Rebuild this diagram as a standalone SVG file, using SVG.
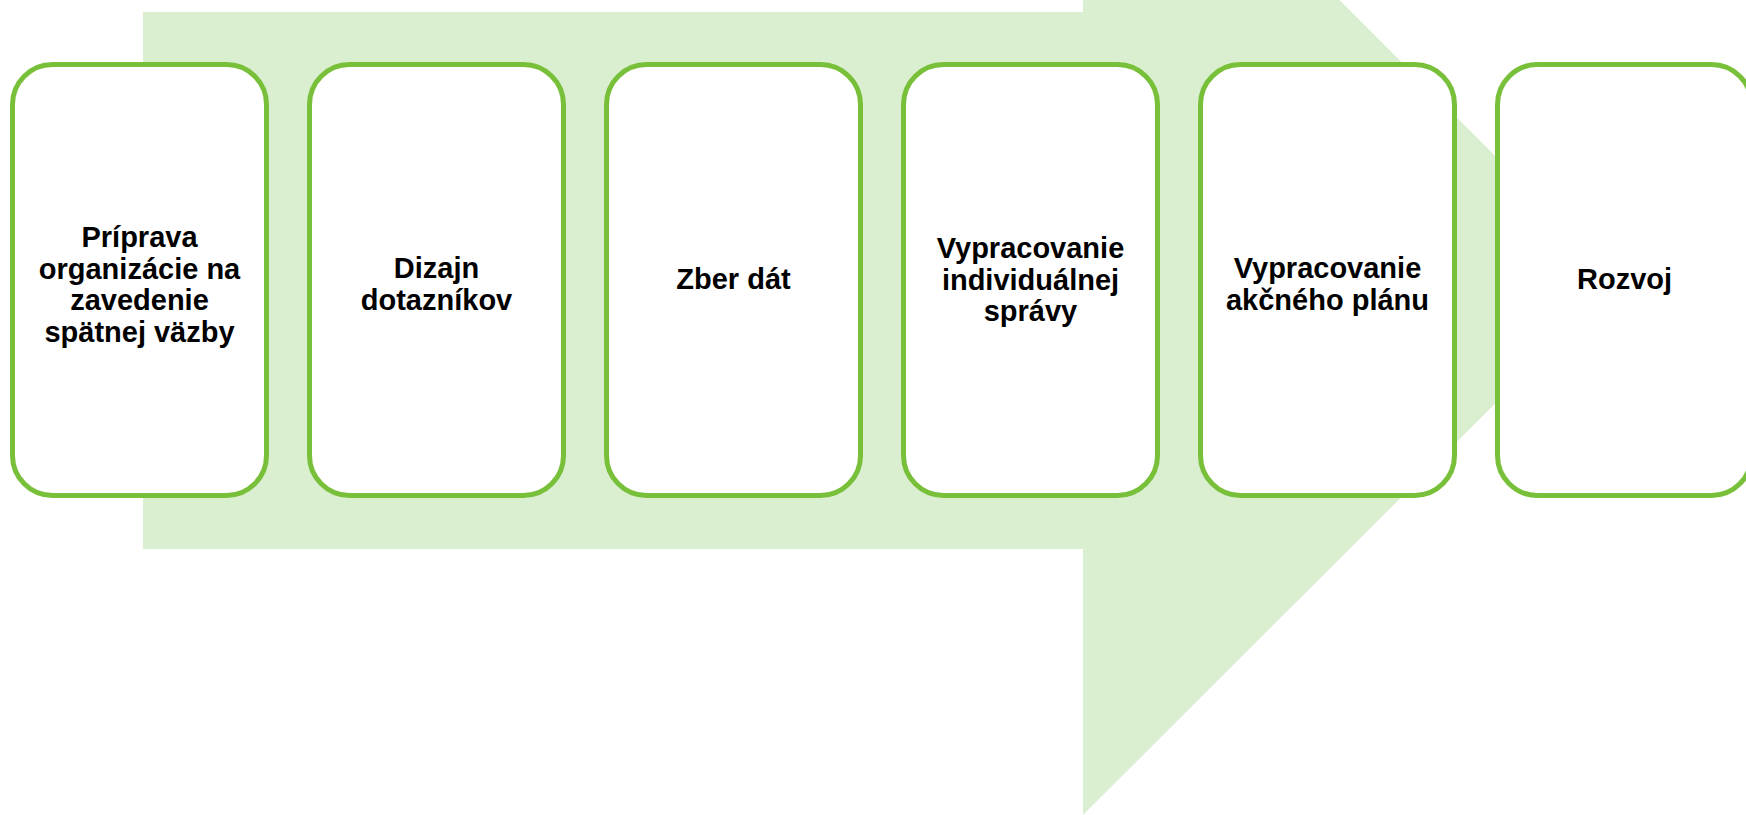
<svg xmlns="http://www.w3.org/2000/svg" width="1746" height="815" viewBox="0 0 1746 815">
<style>
.box{fill:#ffffff;stroke:#78C03A;stroke-width:5}
.lbl{font-family:"Liberation Sans",Arial,sans-serif;font-weight:bold;font-size:29px;fill:#000000;text-anchor:middle}
</style>
<rect width="1746" height="815" fill="#ffffff"/>
<g id="arrow">
<path d="M143,12 H1083 V-257 L1619,280 L1083,815 V549 H143 Z" fill="#DAEED0"/>
</g>
<g id="connectors"></g>
<g id="n1">
<rect class="box" x="12.5" y="64.5" width="254" height="431" rx="40"/>
<text class="lbl"><tspan x="139.5" y="247">Príprava</tspan><tspan x="139.5" y="278.5">organizácie na</tspan><tspan x="139.5" y="310">zavedenie</tspan><tspan x="139.5" y="341.5">spätnej väzby</tspan></text>
</g>
<g id="n2">
<rect class="box" x="309.5" y="64.5" width="254" height="431" rx="40"/>
<text class="lbl"><tspan x="436.5" y="278">Dizajn</tspan><tspan x="436.5" y="309.5">dotazníkov</tspan></text>
</g>
<g id="n3">
<rect class="box" x="606.5" y="64.5" width="254" height="431" rx="40"/>
<text class="lbl"><tspan x="733.5" y="289">Zber dát</tspan></text>
</g>
<g id="n4">
<rect class="box" x="903.5" y="64.5" width="254" height="431" rx="40"/>
<text class="lbl"><tspan x="1030.5" y="258">Vypracovanie</tspan><tspan x="1030.5" y="289.5">individuálnej</tspan><tspan x="1030.5" y="321">správy</tspan></text>
</g>
<g id="n5">
<rect class="box" x="1200.5" y="64.5" width="254" height="431" rx="40"/>
<text class="lbl"><tspan x="1327.5" y="278">Vypracovanie</tspan><tspan x="1327.5" y="309.5">akčného plánu</tspan></text>
</g>
<g id="n6">
<rect class="box" x="1497.5" y="64.5" width="254" height="431" rx="40"/>
<text class="lbl"><tspan x="1624.5" y="289">Rozvoj</tspan></text>
</g>
</svg>
